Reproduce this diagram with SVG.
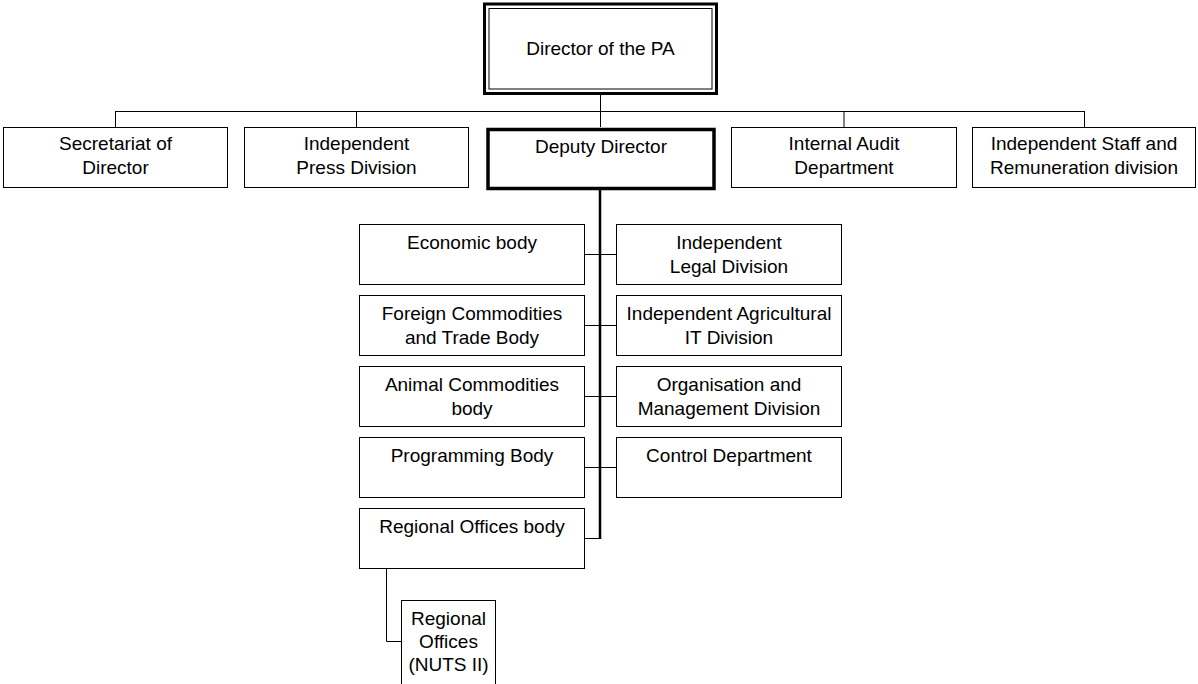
<svg xmlns="http://www.w3.org/2000/svg" width="1198" height="684" viewBox="0 0 1198 684">
<style>
.box{fill:#fff;stroke:#000;stroke-width:1}
.thick{fill:#fff;stroke:#000;stroke-width:3.5}
.t{font-family:"Liberation Sans",Arial,sans-serif;font-size:19px;fill:#000;text-anchor:middle}
.c{fill:none;stroke:#000;stroke-width:1}
.c2{fill:none;stroke:#000;stroke-width:2.5}
</style>
<rect width="1198" height="684" fill="#fff"/>
<g id="connectors">
<path class="c" d="M600.5 93V127M115.5 111.5H1084.5M115.5 111V127.5M356.5 111V127.5M844 111V127.5M1084.5 111V127.5"/>
<path class="c2" d="M600 190V539"/>
<path class="c" d="M584.5 254.5H616.5M584.5 325.5H616.5M584.5 396.5H616.5M584.5 467.5H616.5M584.5 538.5H600"/>
<path class="c" d="M386.5 568.5V641.5H401.5"/>
</g>
<g id="director">
<rect x="484.5" y="4" width="232" height="89.5" fill="#fff" stroke="#000" stroke-width="3"/>
<rect x="489" y="8.5" width="223" height="80.5" fill="none" stroke="#000" stroke-width="1"/>
<text class="t" x="600.5" y="55">Director of the PA</text>
</g>
<g id="secretariat">
<rect class="box" x="3.5" y="127.5" width="224" height="60"/>
<text class="t" x="115.5" y="150">Secretariat of</text>
<text class="t" x="115.5" y="174">Director</text>
</g>
<g id="press">
<rect class="box" x="244.5" y="127.5" width="224" height="60"/>
<text class="t" x="356.5" y="150">Independent</text>
<text class="t" x="356.5" y="174">Press Division</text>
</g>
<g id="deputy">
<rect class="thick" x="488" y="129.5" width="226" height="59"/>
<text class="t" x="601" y="153">Deputy Director</text>
</g>
<g id="audit">
<rect class="box" x="731.5" y="127.5" width="225" height="60"/>
<text class="t" x="844" y="150">Internal Audit</text>
<text class="t" x="844" y="174">Department</text>
</g>
<g id="staff">
<rect class="box" x="972.5" y="127.5" width="223" height="60"/>
<text class="t" x="1084" y="150">Independent Staff and</text>
<text class="t" x="1084" y="174">Remuneration division</text>
</g>
<g id="economic">
<rect class="box" x="359.5" y="224.5" width="225" height="60"/>
<text class="t" x="472" y="249">Economic body</text>
</g>
<g id="legal">
<rect class="box" x="616.5" y="224.5" width="225" height="60"/>
<text class="t" x="729" y="249">Independent</text>
<text class="t" x="729" y="272.5">Legal Division</text>
</g>
<g id="foreign">
<rect class="box" x="359.5" y="295.5" width="225" height="60"/>
<text class="t" x="472" y="320">Foreign Commodities</text>
<text class="t" x="472" y="343.5">and Trade Body</text>
</g>
<g id="agri-it">
<rect class="box" x="616.5" y="295.5" width="225" height="60"/>
<text class="t" x="729" y="320">Independent Agricultural</text>
<text class="t" x="729" y="343.5">IT Division</text>
</g>
<g id="animal">
<rect class="box" x="359.5" y="366.5" width="225" height="60"/>
<text class="t" x="472" y="391">Animal Commodities</text>
<text class="t" x="472" y="414.5">body</text>
</g>
<g id="organisation">
<rect class="box" x="616.5" y="366.5" width="225" height="60"/>
<text class="t" x="729" y="391">Organisation and</text>
<text class="t" x="729" y="414.5">Management Division</text>
</g>
<g id="programming">
<rect class="box" x="359.5" y="437.5" width="225" height="60"/>
<text class="t" x="472" y="462">Programming Body</text>
</g>
<g id="control">
<rect class="box" x="616.5" y="437.5" width="225" height="60"/>
<text class="t" x="729" y="462">Control Department</text>
</g>
<g id="regional-body">
<rect class="box" x="359.5" y="508.5" width="225" height="60"/>
<text class="t" x="472" y="533">Regional Offices body</text>
</g>
<g id="regional-offices">
<rect class="box" x="401.5" y="600.5" width="94" height="90"/>
<text class="t" x="448.5" y="625">Regional</text>
<text class="t" x="448.5" y="647.5">Offices</text>
<text class="t" x="448.5" y="671">(NUTS II)</text>
</g>
</svg>
